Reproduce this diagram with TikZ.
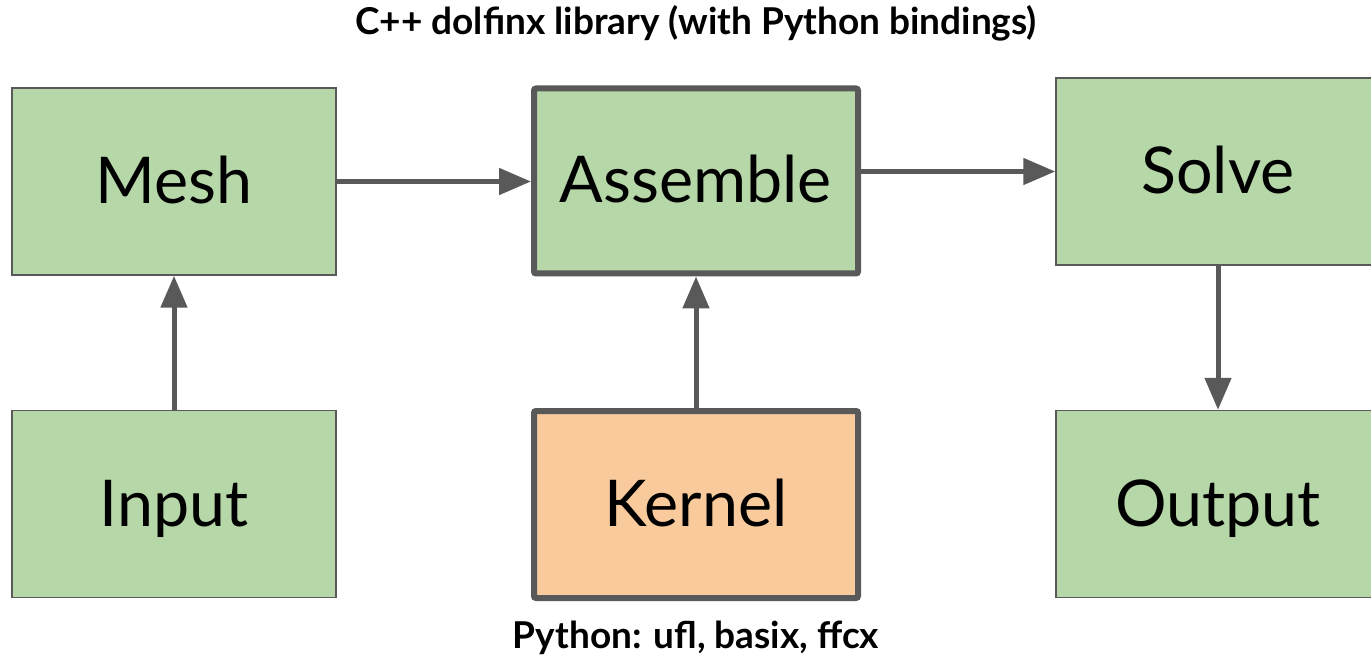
\documentclass[tikz,border=0pt]{standalone}
\usepackage{fontspec}
\setmainfont{Lato}
\usetikzlibrary{arrows.meta}
\definecolor{boxgreen}{HTML}{B6D7A8}
\definecolor{boxorange}{HTML}{F9CB9C}
\definecolor{edgegray}{HTML}{595959}
\tikzset{
  plainbox/.style={draw=edgegray, line width=1.5pt, fill=boxgreen, minimum width=324pt, minimum height=187pt, inner sep=0pt, font=\fontsize{64.5}{72}\selectfont, text=black, text height=44pt, text depth=0pt},
  heavybox/.style={plainbox, line width=6pt, rounded corners=2pt, minimum width=324pt, minimum height=185pt},
  conn/.style={draw=edgegray, line width=5pt, -{Triangle[length=32pt,width=26pt]}},
  caption/.style={font=\fontsize{37}{42}\selectfont\bfseries, text=black, inner sep=0pt}
}
\begin{document}
\begin{tikzpicture}[x=1pt,y=1pt]
\useasboundingbox (0,0) rectangle (1371,657);
\node[plainbox] (mesh) at (174,475.5) {Mesh};
\node[plainbox] (input) at (174,153) {Input};
\node[heavybox] (assemble) at (696,476) {Assemble};
\node[heavybox, fill=boxorange, minimum height=187pt] (kernel) at (696,152.5) {Kernel};
\node[plainbox] (solve) at (1218,485.5) {Solve};
\node[plainbox] (output) at (1218,153) {Output};
\node[caption] (title) at (696,634) {C++ dolfinx library (with Python bindings)};
\node[caption] (pylabel) at (696,19) {Python: ufl, basix, ffcx};
\draw[conn] (mesh.east) -- (mesh.east -| assemble.west);
\draw[conn] (assemble.east |- solve.west) -- (solve.west);
\draw[conn] (input.north) -- (mesh.south);
\draw[conn] (kernel.north) -- (assemble.south);
\draw[conn] (solve.south) -- (output.north);
\end{tikzpicture}
\end{document}
